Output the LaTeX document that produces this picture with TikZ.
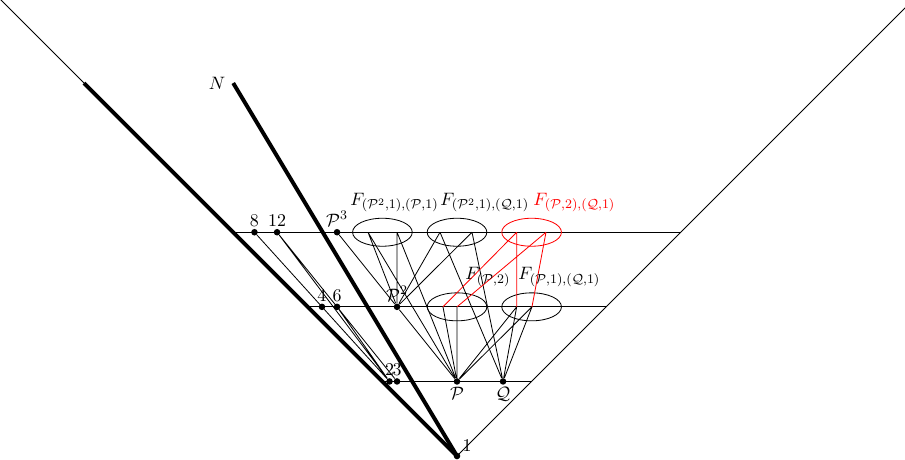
\documentclass[tikz,border=0pt]{standalone}
\usetikzlibrary{shapes.geometric}
\begin{document}
\begin{tikzpicture}[x=1.6cm,y=1.6cm,line width=0.5pt,
  every node/.style={font=\fontsize{11.3}{13.5}\selectfont},
  dot/.style={circle,fill=black,inner sep=0pt,minimum size=4pt},
  fset/.style={ellipse,draw,inner sep=0pt,minimum width=1.28cm,minimum height=0.6cm},
  heavy/.style={line width=2.4pt},
  lab/.style={inner sep=1pt},
  flab/.style={anchor=base west,inner sep=0pt}]
\useasboundingbox (-6.126,-0.04) rectangle (6.005,6.113);
\clip (-6.126,-0.04) rectangle (6.005,6.113);
% cone
\coordinate (apex) at (0,0);
\coordinate (L) at (-6.5,6.5);
\coordinate (R) at (6.5,6.5);
\coordinate (Ltop) at (-5,5);
\coordinate (Ntop) at (-3,5);
\draw (L) -- (apex) -- (R);
% levels
\coordinate (h1l) at (-1,1); \coordinate (h1r) at (1,1);
\coordinate (h2l) at (-2,2); \coordinate (h2r) at (2,2);
\coordinate (h3l) at (-3,3); \coordinate (h3r) at (3,3);
\draw (h1l) -- (h1r);
\draw (h2l) -- (h2r);
\draw (h3l) -- (h3r);
% ellipses
\node[fset] (A3) at (-1,3) {};
\node[fset] (B3) at (0,3) {};
\node[fset,draw=red] (C3) at (1,3) {};
\node[fset] (A2) at (0,2) {};
\node[fset] (B2) at (1,2) {};
% points inside ellipses
\coordinate (A3a) at (-1.193,3); \coordinate (A3b) at (-0.804,3);
\coordinate (B3a) at (-0.228,3); \coordinate (B3b) at (0.201,3);
\coordinate (C3a) at (0.8,3);    \coordinate (C3b) at (1.193,3);
\coordinate (A2a) at (-0.188,2); \coordinate (A2b) at (0,2);
\coordinate (B2a) at (0.8,2);    \coordinate (B2b) at (1.005,2);
% dots
\node[dot] (n1) at (apex) {};
\node[dot,label={[lab]above:$2$}] (n2) at (-0.905,1) {};
\node[dot,label={[lab]above:$3$}] (n3) at (-0.804,1) {};
\node[dot,label={[lab]below:$\mathcal{P}$}] (P) at (0,1) {};
\node[dot,label={[lab]below:$\mathcal{Q}$}] (Q) at (0.617,1) {};
\node[dot,label={[lab]above:$4$}] (n4) at (-1.81,2) {};
\node[dot,label={[lab]above:$6$}] (n6) at (-1.608,2) {};
\node[dot,label={[lab]above:$\mathcal{P}^2$}] (P2) at (-0.804,2) {};
\node[dot,label={[lab]above:$8$}] (n8) at (-2.715,3) {};
\node[dot,label={[lab]above:$12$}] (n12) at (-2.412,3) {};
\node[dot,label={[lab]above:$\mathcal{P}^3$}] (P3) at (-1.608,3) {};
\node[anchor=south west,inner sep=0pt] (lab1) at (0.07,0.05) {$1$};
\node[anchor=east,inner sep=0pt] (labN) at (-3.1,5) {$N$};
% connectors
\draw (P3) -- (P2) -- (P);
\draw (A3a) -- (P2) (A3a) -- (P) (A3b) -- (P2) (A3b) -- (P);
\draw (B3a) -- (P2) (B3a) -- (Q) (B3b) -- (P2) (B3b) -- (Q);
\draw (A2a) -- (P) (A2b) -- (P);
\draw (B2a) -- (P) (B2a) -- (Q) (B2b) -- (P) (B2b) -- (Q);
\draw (n8) -- (n2) (n12) -- (n3) (n12) -- (n2) (n6) -- (n2);
\draw[red] (C3a) -- (A2a) (C3b) -- (A2b) (C3a) -- (B2a) (C3b) -- (B2b);
% thick lines
\draw[heavy] (Ltop) -- (apex);
\draw[heavy] (Ntop) -- (apex);
% labels of sets
\node[flab] (fA3) at (-1.434,3.365) {$F_{(\mathcal{P}^2,1),(\mathcal{P},1)}$};
\node[flab] (fB3) at (-0.228,3.365) {$F_{(\mathcal{P}^2,1),(\mathcal{Q},1)}$};
\node[flab,red] (fC3) at (1.019,3.365) {$F_{(\mathcal{P},2),(\mathcal{Q},1)}$};
\node[flab] (fA2) at (0.107,2.36) {$F_{(\mathcal{P},2)}$};
\node[flab] (fB2) at (0.818,2.36) {$F_{(\mathcal{P},1),(\mathcal{Q},1)}$};
\end{tikzpicture}
\end{document}
